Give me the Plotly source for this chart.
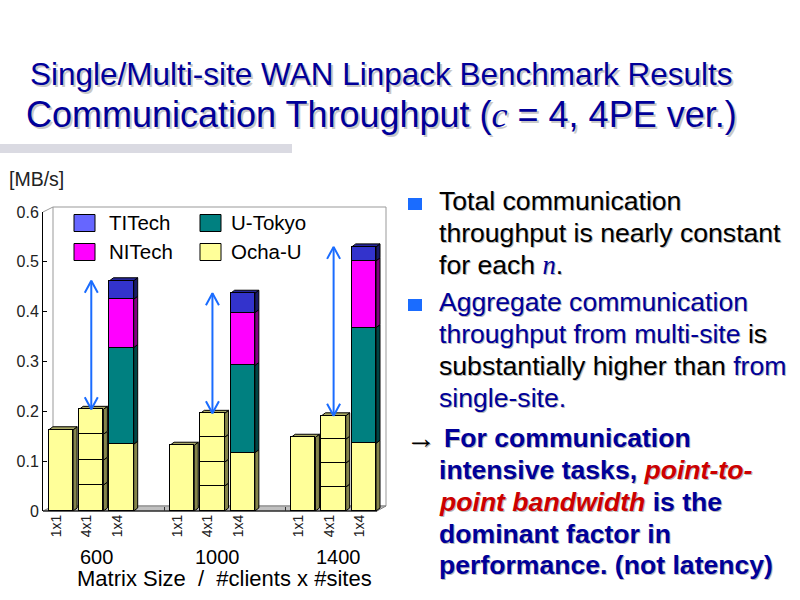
import plotly.graph_objects as go

# ---------------- data ----------------
groups = ["600", "1000", "1400"]
configs = ["1x1", "4x1", "1x4"]

# 1x1 : one client at Ocha-U
ocha_1x1 = [0.163, 0.132, 0.148]
# 4x1 : four clients at Ocha-U (one stacked block per client)
ocha_4x1_c1 = [0.052, 0.050, 0.048]
ocha_4x1_c2 = [0.050, 0.048, 0.048]
ocha_4x1_c3 = [0.052, 0.050, 0.048]
ocha_4x1_c4 = [0.050, 0.048, 0.047]
# 1x4 : one client at each of four sites
ocha_1x4 = [0.134, 0.117, 0.136]
utokyo_1x4 = [0.194, 0.175, 0.232]
nitech_1x4 = [0.097, 0.106, 0.134]
titech_1x4 = [0.037, 0.039, 0.028]

y_tickvals = [0, 0.1, 0.2, 0.3, 0.4, 0.5, 0.6]
y_ticktext = ["0", "0.1", "0.2", "0.3", "0.4", "0.5", "0.6"]

legend_names = ["TITech", "U-Tokyo", "NITech", "Ocha-U"]

# ---------------- styling ----------------
SANS = "Liberation Sans, Arial, sans-serif"
SERIF = "Liberation Serif, Times New Roman, serif"
W, H = 800, 600
L_PX, R_PX = 43, 386          # plot area left/right (px)
TOP_PX, BOT_PX = 212, 511     # plot area top/bottom (px)
SLOTS = 4                     # slots per group (3 bars + gap)
XMIN, XMAX = -0.594, 10.73
YMAX = 0.6
slot_px = (R_PX - L_PX) / (XMAX - XMIN)
unit_px = (BOT_PX - TOP_PX) / YMAX
BW = 0.8
DX = 4 / slot_px              # 3D depth offsets in data units
DY = 3 / unit_px

COL = {
    "ocha": ("#ffff99", "#84844a", "#a9a964"),
    "ut": ("#008080", "#004444", "#006060"),
    "nit": ("#ff00ff", "#800080", "#b000b0"),
    "tit": ("#3333cc", "#1a1a66", "#262699"),
}
LEG_COL = ["#6666ff", "#008080", "#ff00ff", "#ffff99"]
ARROW = "#1a6cff"


def px_x(p):
    return p / W


def px_y(p):
    return 1 - p / H


pos = lambda g, i: g * SLOTS + i

# ---------------- bar traces ----------------
fig = go.Figure()
ng = len(groups)
x_1x1 = [pos(g, 0) for g in range(ng)]
x_4x1 = [pos(g, 1) for g in range(ng)]
x_1x4 = [pos(g, 2) for g in range(ng)]


def bar(x, y, key):
    return go.Bar(x=x, y=y, width=BW, marker=dict(color=COL[key][0], line=dict(color="black", width=1)),
                  showlegend=False, hoverinfo="skip")


fig.add_trace(bar(x_1x1 + x_4x1 + x_1x4, ocha_1x1 + ocha_4x1_c1 + ocha_1x4, "ocha"))
for c in (ocha_4x1_c2, ocha_4x1_c3, ocha_4x1_c4):
    fig.add_trace(bar(x_4x1, c, "ocha"))
fig.add_trace(bar(x_1x4, utokyo_1x4, "ut"))
fig.add_trace(bar(x_1x4, nitech_1x4, "nit"))
fig.add_trace(bar(x_1x4, titech_1x4, "tit"))

# stacks for the 3D faces
stacks = {}
for g in range(ng):
    stacks[pos(g, 0)] = [(ocha_1x1[g], "ocha")]
    stacks[pos(g, 1)] = [(v[g], "ocha") for v in (ocha_4x1_c1, ocha_4x1_c2, ocha_4x1_c3, ocha_4x1_c4)]
    stacks[pos(g, 2)] = [(ocha_1x4[g], "ocha"), (utokyo_1x4[g], "ut"), (nitech_1x4[g], "nit"), (titech_1x4[g], "tit")]

shapes = []
# back wall
shapes.append(dict(type="rect", xref="paper", yref="paper", x0=px_x(53), x1=px_x(386), y0=px_y(506), y1=px_y(207),
                   line=dict(color="#999999", width=1), fillcolor="white", layer="below"))
shapes.append(dict(type="line", xref="paper", yref="paper", x0=px_x(43), y0=px_y(212), x1=px_x(53), y1=px_y(207),
                   line=dict(color="#999999", width=1), layer="below"))
# floor
shapes.append(dict(type="path", xref="paper", yref="paper",
                   path=f"M {px_x(43)},{px_y(511)} L {px_x(377)},{px_y(511)} L {px_x(386)},{px_y(506)} L {px_x(53)},{px_y(506)} Z",
                   fillcolor="#c0c0c0", line=dict(color="#808080", width=1), layer="below"))
shapes.append(dict(type="line", xref="paper", yref="paper", x0=px_x(43), y0=px_y(511), x1=px_x(377), y1=px_y(511),
                   line=dict(color="black", width=1), layer="below"))

w = BW / 2
for xc, segs in stacks.items():
    base = 0.0
    for k, (v, key) in enumerate(segs):
        top = base + v
        shapes.append(dict(type="path", xref="x", yref="y",
                           path=f"M {xc+w},{base} L {xc+w+DX},{base+DY} L {xc+w+DX},{top+DY} L {xc+w},{top} Z",
                           fillcolor=COL[key][1], line=dict(color="black", width=1), layer="below"))
        if k == len(segs) - 1:
            shapes.append(dict(type="path", xref="x", yref="y",
                               path=f"M {xc-w},{top} L {xc-w+DX},{top+DY} L {xc+w+DX},{top+DY} L {xc+w},{top} Z",
                               fillcolor=COL[key][2], line=dict(color="black", width=1), layer="below"))
        base = top

# ---------------- arrows ----------------
hw = 6.5 / slot_px
hh = 12 / unit_px
ax, ay = [], []
for g in range(ng):
    xc = pos(g, 1)
    lo = ocha_4x1_c1[g] + ocha_4x1_c2[g] + ocha_4x1_c3[g] + ocha_4x1_c4[g]
    hi = ocha_1x4[g] + utokyo_1x4[g] + nitech_1x4[g] + titech_1x4[g]
    ax += [xc, xc, None, xc - hw, xc, xc + hw, None, xc - hw, xc, xc + hw, None]
    ay += [lo, hi, None, hi - hh, hi, hi - hh, None, lo + hh, lo, lo + hh, None]
fig.add_trace(go.Scatter(x=ax, y=ay, mode="lines", line=dict(color=ARROW, width=2), showlegend=False,
                         hoverinfo="skip"))

# ---------------- axes ----------------
bar_x = [pos(g, i) for g in range(ng) for i in range(len(configs))]
label_shift = 4.5 / slot_px
fig.update_xaxes(domain=[L_PX / W, R_PX / W], range=[XMIN, XMAX], showline=False, showgrid=False, zeroline=False,
                 tickmode="array", tickvals=[v - label_shift for v in bar_x], ticktext=configs * ng,
                 tickangle=-90, ticks="", tickfont=dict(family=SANS, size=14, color="#222"),
                 minor=dict(tickmode="array", tickvals=[g * SLOTS + XMIN for g in range(1, ng)],
                            ticks="inside", ticklen=4, tickcolor="#333"),
                 automargin=False, fixedrange=True)
fig.update_yaxes(domain=[1 - BOT_PX / H, 1 - TOP_PX / H], range=[0, YMAX], showline=True, linecolor="black",
                 linewidth=1, ticks="inside", ticklen=4, tickcolor="black", tickmode="array",
                 tickvals=y_tickvals, ticktext=y_ticktext, showgrid=False, zeroline=False,
                 tickfont=dict(family=SANS, size=16, color="#222"), automargin=False, fixedrange=True)

# ---------------- annotations ----------------
anns = []


def text(t, x, y, size, color="black", family=SANS, xanchor="left", shadow="none", xref="paper"):
    anns.append(dict(text=t, x=x if xref != "paper" else px_x(x), y=px_y(y), xref=xref, yref="paper",
                     xanchor=xanchor, yanchor="middle", showarrow=False, borderpad=0,
                     font=dict(family=family, size=size, color=color, shadow=shadow)))


TSH = "2px 2px 0px #c8c8c8"
text("Single/Multi-site WAN Linpack Benchmark Results", 381, 74, 31.5, "#000099", xanchor="center", shadow=TSH)
text("Communication Throughput (<i><span style='font-family:Liberation Serif'>c</span></i> = 4, 4PE ver.)",
     381, 115, 36, "#000099", xanchor="center", shadow=TSH)
shapes.append(dict(type="rect", xref="paper", yref="paper", x0=0, x1=px_x(292), y0=px_y(153), y1=px_y(144),
                   fillcolor="#dadae2", line=dict(width=0)))

text("[MB/s]", 8, 179, 19.5, "#222")

# legend (manual 2x2)
leg_pos = [(74, 223, 108), (200, 223, 230), (74, 252, 108), (200, 252, 230)]
for name, colr, (sx, sy, tx) in zip(legend_names, LEG_COL, leg_pos):
    shapes.append(dict(type="rect", xref="paper", yref="paper", x0=px_x(sx), x1=px_x(sx + 21),
                       y0=px_y(sy + 8.5), y1=px_y(sy - 8.5), fillcolor=colr, line=dict(color="black", width=1)))
    text(name, tx, sy, 20.5, "black")

# group labels & axis title
for g, gl in enumerate(groups):
    anns.append(dict(text=gl, x=pos(g, 1), xshift=5, y=px_y(557), xref="x", yref="paper", xanchor="center",
                     yanchor="middle", showarrow=False, font=dict(family=SANS, size=20, color="black")))
text("Matrix Size  /  #clients x #sites", 224, 578, 22, "black", xanchor="center")

# right-hand text
BLUE = "#000099"
RED = "#cc0000"
SH = "1px 1px 0px #b8b8b8"
for by in (204, 305):
    shapes.append(dict(type="rect", xref="paper", yref="paper", x0=px_x(408), x1=px_x(422), y0=px_y(by + 6),
                       y1=px_y(by - 6), fillcolor="#1a6cff", line=dict(width=0)))

TX = 438
lines = [
    ("Total communication", 201),
    ("throughput is nearly constant", 233),
    (f"for each <i><span style='font-family:Liberation Serif;color:{BLUE}'>n</span></i>.", 265),
    (f"<span style='color:{BLUE}'>Aggregate communication</span>", 302),
    (f"<span style='color:{BLUE}'>throughput from multi-site</span> is", 334),
    (f"substantially higher than <span style='color:{BLUE}'>from</span>", 366),
    (f"<span style='color:{BLUE}'>single-site.</span>", 398),
]
for t, y in lines:
    text(t, TX, y, 26.6, "black", shadow=SH)

text("→", 405, 437, 30, "black", family=SERIF, shadow=SH)
bold_lines = [
    ("<b>For communication</b>", 443, 438),
    (f"<b>intensive tasks, <i><span style='color:{RED}'>point-to-</span></i></b>", TX, 470),
    (f"<b><i><span style='color:{RED}'>point bandwidth</span></i> is the</b>", TX, 502),
    ("<b>dominant factor in</b>", TX, 534),
    ("<b>performance. (not latency)</b>", TX, 565),
]
for t, x, y in bold_lines:
    text(t, x, y, 26.6, BLUE, shadow=SH)

fig.update_layout(width=W, height=H, margin=dict(l=0, r=0, t=0, b=0, pad=0), paper_bgcolor="white",
                  plot_bgcolor="rgba(0,0,0,0)", barmode="stack", bargap=0, showlegend=False,
                  shapes=shapes, annotations=anns)

fig.write_html("out.html")
